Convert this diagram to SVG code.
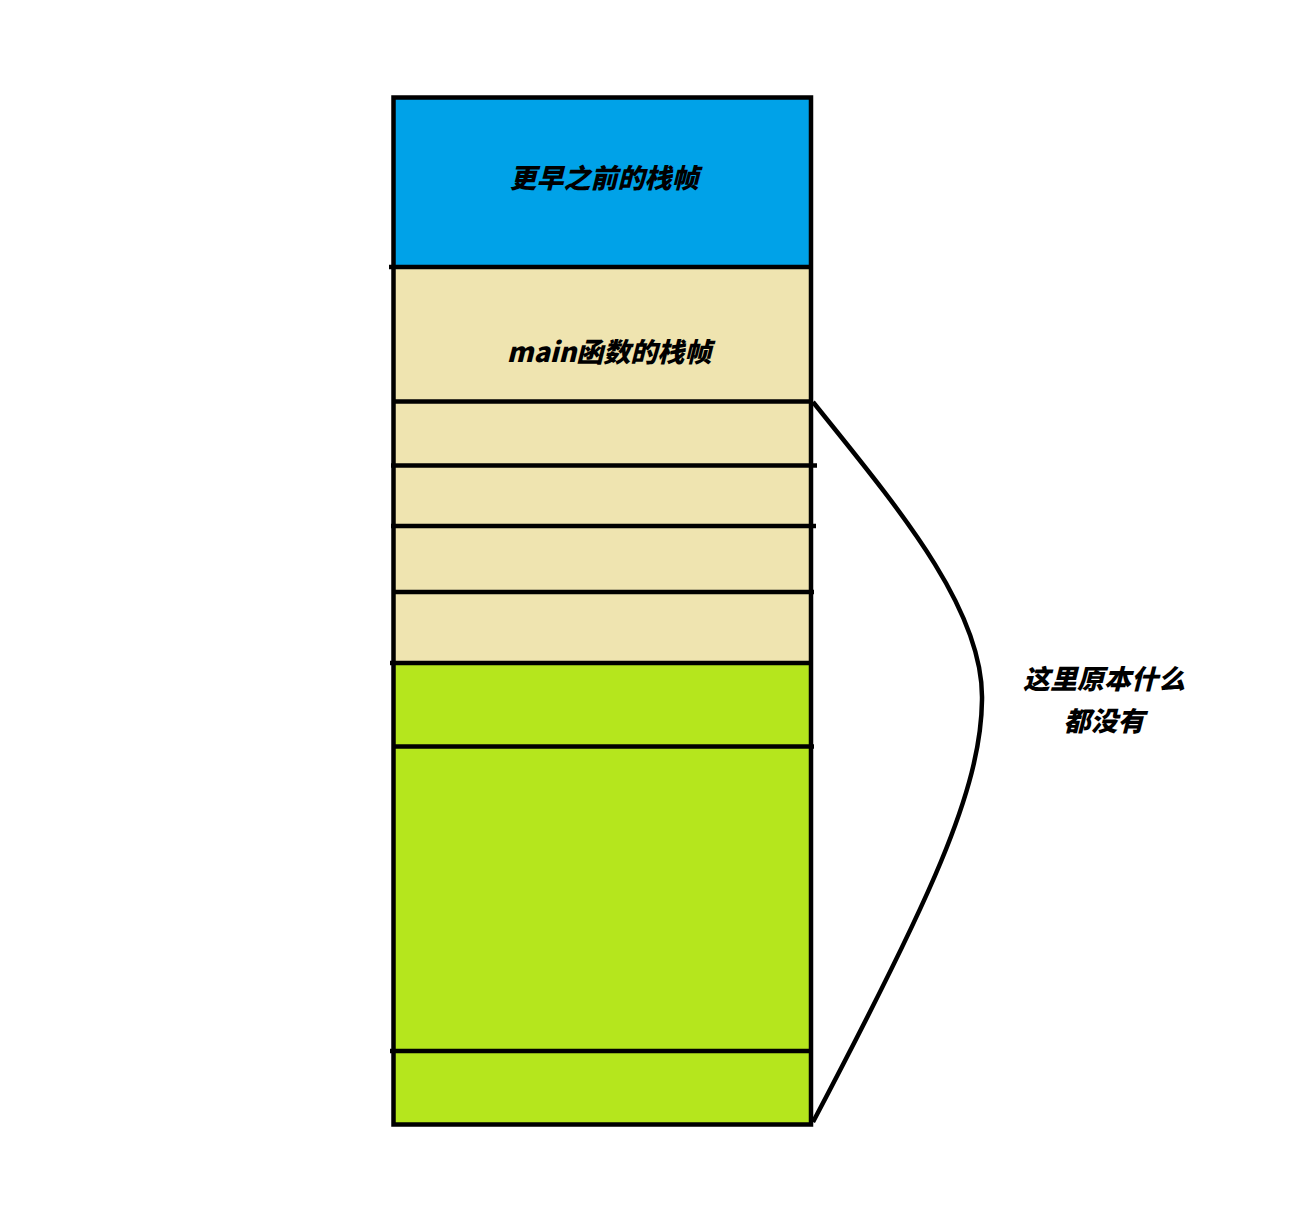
<svg xmlns="http://www.w3.org/2000/svg" width="1293" height="1210" viewBox="0 0 1293 1210">
<style>
.cell{stroke:none}
.ln{stroke:#000;stroke-width:4.5;fill:none}
.t{font-family:"Noto Sans CJK SC","Liberation Sans",sans-serif;font-weight:900;font-style:italic;font-size:27px;fill:#000;text-anchor:middle}
</style>
<rect width="1293" height="1210" fill="#fff"/>
<g id="stack">
<g id="earlier-frame"><rect class="cell" x="393" y="97" width="418" height="170" fill="#00A2E8"/><text class="t" x="604" y="188">更早之前的栈帧</text></g>
<g id="main-frame"><rect class="cell" x="393" y="267" width="418" height="396" fill="#EFE4B0"/><text class="t" x="609" y="362">main函数的栈帧</text></g>
<g id="empty-area"><rect class="cell" x="393" y="663" width="418" height="461" fill="#B5E61D"/></g>
<rect class="ln" x="393.5" y="97.5" width="417.5" height="1027"/>
<line class="ln" x1="389" y1="267" x2="811" y2="267"/>
<line class="ln" x1="393" y1="401.5" x2="811" y2="401.5"/>
<line class="ln" x1="391" y1="465.5" x2="817" y2="465.5"/>
<line class="ln" x1="391" y1="526" x2="816" y2="526"/>
<line class="ln" x1="393" y1="592" x2="814" y2="592"/>
<line class="ln" x1="390" y1="663" x2="811" y2="663"/>
<line class="ln" x1="393" y1="746.5" x2="814" y2="746.5"/>
<line class="ln" x1="390" y1="1051" x2="811" y2="1051"/>
</g>
<g id="connectors">
<path class="ln" d="M813 402 C 900 510, 984 610, 982 700 C 981 790, 930 900, 813 1122"/>
</g>
<g id="note">
<text class="t" x="1104" y="689">这里原本什么</text>
<text class="t" x="1104" y="731">都没有</text>
</g>
</svg>
